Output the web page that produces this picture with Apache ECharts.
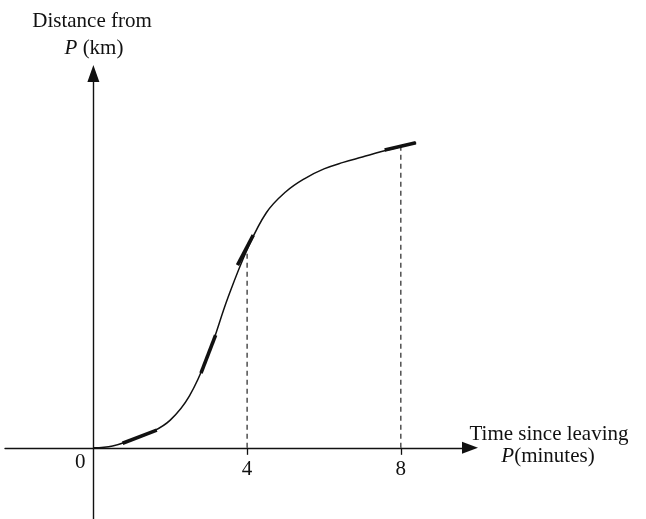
<!DOCTYPE html>
<html>
<head>
<meta charset="utf-8">
<script src="https://cdn.jsdelivr.net/npm/echarts@6/dist/echarts.min.js"></script>
<style>
  html, body { margin: 0; padding: 0; background: #fff; }
  #chart { width: 646px; height: 519px; }
</style>
</head>
<body>
<div id="chart"></div>
<script>
// Distance from P against time since leaving P
const timeMinutes = [0, 0.5, 1, 1.5, 2, 2.5, 3, 3.5, 4, 4.5, 5, 5.5, 6, 6.5, 7, 7.5, 8, 8.4];
const distanceKm  = [0, 0.05, 0.21, 0.40, 0.72, 1.35, 2.45, 3.90, 5.15, 6.11, 6.65, 7.00, 7.25, 7.42, 7.56, 7.70, 7.83, 7.93];

// Short tangent strokes drawn along the curve
const tangentA = [[0.76, 0.12], [1.65, 0.46]];
const tangentB = [[2.80, 1.94], [3.18, 2.93]];
const tangentC = [[3.75, 4.75], [4.16, 5.53]];
const tangentD = [[7.58, 7.74], [8.39, 7.93]];

// Dropped guide lines at the marked times
const guideTimes = [4, 8];
const guideHeights = [5.15, 7.83];

const tickLabels = [4, 8];
const originLabel = '0';

const serif = '"Liberation Serif", "DejaVu Serif", serif';
const ink = '#111';
const fontPx = 21;

const curve = timeMinutes.map((t, i) => [t, distanceKm[i]]);

const tangentSeries = [tangentA, tangentB, tangentC, tangentD].map(seg => ({
  type: 'line',
  data: seg,
  symbol: 'none',
  silent: true,
  lineStyle: { color: ink, width: 3.6, cap: 'butt' },
  z: 4
}));

const guideSeries = guideTimes.map((t, i) => ({
  type: 'line',
  data: [[t, 0], [t, guideHeights[i]]],
  symbol: 'none',
  silent: true,
  lineStyle: { color: '#333', width: 1.3, type: [5, 4] },
  z: 2
}));

const labelStyle = { fontFamily: serif, fontSize: fontPx, color: ink };
const italicRich = { i: { fontStyle: 'italic', fontFamily: serif, fontSize: fontPx, fill: ink } };

const chart = echarts.init(document.getElementById('chart'));
chart.setOption({
  animation: false,
  backgroundColor: '#fff',
  grid: { left: 5, right: 176, top: 73.5, bottom: 0, containLabel: false, outerBoundsMode: 'none' },
  xAxis: {
    type: 'value',
    min: -2.3,
    max: 9.8,
    splitLine: { show: false },
    axisLine: {
      onZero: true,
      symbol: ['none', 'triangle'],
      symbolSize: [12, 16],
      lineStyle: { color: ink, width: 1.4 }
    },
    axisTick: { show: true, customValues: tickLabels, length: 7, lineStyle: { color: ink, width: 1.3 } },
    axisLabel: { show: false }
  },
  yAxis: {
    type: 'value',
    min: -1.85,
    max: 9.73,
    splitLine: { show: false },
    axisLine: {
      onZero: true,
      symbol: ['none', 'triangle'],
      symbolSize: [12, 17],
      lineStyle: { color: ink, width: 1.4 }
    },
    axisTick: { show: false },
    axisLabel: { show: false }
  },
  graphic: [
    {
      type: 'text',
      style: {
        text: 'Distance from',
        x: 92, y: 21,
        align: 'center', verticalAlign: 'middle',
        font: fontPx + 'px ' + serif, fill: ink
      }
    },
    {
      type: 'text',
      style: {
        text: '{i|P} (km)',
        x: 94, y: 48,
        align: 'center', verticalAlign: 'middle',
        font: fontPx + 'px ' + serif, fill: ink,
        rich: italicRich
      }
    },
    {
      type: 'text',
      style: {
        text: 'Time since leaving',
        x: 549, y: 434,
        align: 'center', verticalAlign: 'middle',
        font: fontPx + 'px ' + serif, fill: ink
      }
    },
    {
      type: 'text',
      style: {
        text: '{i|P}(minutes)',
        x: 548, y: 456,
        align: 'center', verticalAlign: 'middle',
        font: fontPx + 'px ' + serif, fill: ink,
        rich: italicRich
      }
    }
  ],
  series: [
    {
      type: 'line',
      data: curve,
      smooth: 0.4,
      symbol: 'none',
      silent: true,
      lineStyle: { color: ink, width: 1.5 },
      z: 3
    },
    ...tangentSeries,
    ...guideSeries,
    {
      // tick values printed under the time axis
      type: 'scatter',
      data: tickLabels.map(t => [t, 0]),
      symbolSize: 0,
      silent: true,
      itemStyle: { opacity: 1, color: ink },
      label: Object.assign({
        show: true,
        formatter: p => String(p.value[0]),
        position: 'bottom',
        distance: 11
      }, labelStyle)
    },
    {
      type: 'scatter',
      data: [[0, 0]],
      symbolSize: 0,
      silent: true,
      itemStyle: { opacity: 1, color: ink },
      label: Object.assign({
        show: true,
        formatter: originLabel,
        position: 'left',
        distance: 8,
        offset: [0, 14.5]
      }, labelStyle)
    }
  ]
});
</script>
</body>
</html>
